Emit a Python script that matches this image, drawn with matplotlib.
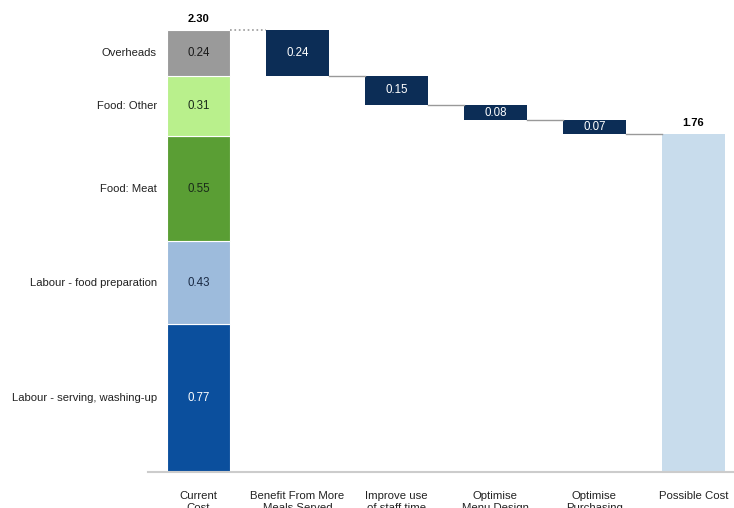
import matplotlib.pyplot as plt
import matplotlib as mpl

# stacked current cost
seg_labels = ['Labour - serving, washing-up', 'Labour - food preparation',
              'Food: Meat', 'Food: Other', 'Overheads']
seg_values = [0.77, 0.43, 0.55, 0.31, 0.24]
seg_colors = ['#0b4f9d', '#9dbbdc', '#5a9e34', '#b9f08c', '#9a9a9a']
seg_text = ['white', '#1a2a44', '#1a2a1a', '#1a2a1a', '#1a1a1a']

# savings steps
step_values = [0.24, 0.15, 0.08, 0.07]
final_value = 1.76

categories = ['Current\nCost', 'Benefit From More\nMeals Served', 'Improve use\nof staff time',
              'Optimise\nMenu Design', 'Optimise\nPurchasing', 'Possible Cost']

navy = '#0c2d56'
final_color = '#c8dcec'

mpl.rcParams['font.family'] = ['Liberation Sans', 'DejaVu Sans']

fig = plt.figure(figsize=(7.34, 5.08), dpi=100)
ax = fig.add_axes([148 / 734, 36 / 508, 586 / 734, 472 / 508])

w = 0.64
# current cost stack
bottom = 0
for lab, v, c, tc in zip(seg_labels, seg_values, seg_colors, seg_text):
    ax.bar(0, v, bottom=bottom, width=w, color=c, edgecolor='white', linewidth=0.8)
    ax.text(0, bottom + v / 2, f'{v:.2f}', ha='center', va='center', fontsize=8.3, color=tc)
    ax.text(-0.42, bottom + v / 2, lab, ha='right', va='center', fontsize=8.1, color='#222222')
    bottom += v
total = bottom
ax.text(0, total + 0.03, f'{total:.2f}', ha='center', va='bottom', fontsize=8, fontweight='bold')

# steps
level = total
for i, v in enumerate(step_values, start=1):
    ax.plot([i - 1 + w / 2, i - w / 2], [level, level], color='#999999', lw=1.2 if i == 1 else 1,
            ls=':' if i == 1 else '-')
    ax.bar(i, v, bottom=level - v, width=w, color=navy, linewidth=0)
    ax.text(i, level - v / 2, f'{v:.2f}', ha='center', va='center', fontsize=8.3, color='white')
    level -= v

n = len(step_values) + 1
ax.plot([n - 1 + w / 2, n - w / 2], [level, level], color='#999999', lw=1)
ax.bar(n, final_value, width=w, color=final_color, linewidth=0)
ax.text(n, final_value + 0.03, f'{final_value:.2f}', ha='center', va='bottom',
        fontsize=8, fontweight='bold')

ax.set_xlim(-0.51, 5.41)
ax.set_ylim(0, 472 / 192.2)
for s in ['top', 'right', 'left']:
    ax.spines[s].set_visible(False)
ax.spines['bottom'].set_color('#cccccc')
ax.spines['bottom'].set_linewidth(1.5)
ax.set_yticks([])
ax.set_xticks(range(len(categories)))
ax.set_xticklabels(categories, fontsize=8.2, color='#222222')
ax.tick_params(axis='x', length=0, pad=14)

fig.savefig('out.png', dpi=100)
